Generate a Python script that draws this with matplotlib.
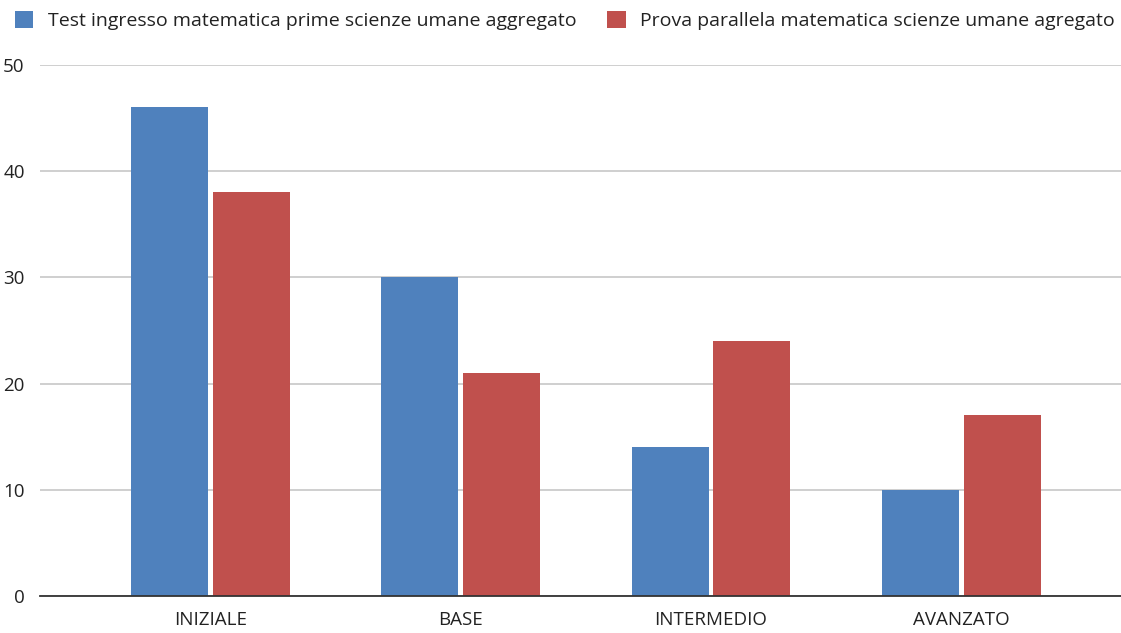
import numpy as np
import matplotlib
matplotlib.use('Agg')
import matplotlib.pyplot as plt

categories = ['INIZIALE', 'BASE', 'INTERMEDIO', 'AVANZATO']
test_ingresso = [46, 30, 14, 10]
prova_parallela = [38, 21, 24, 17]
series_names = ['Test ingresso matematica prime scienze umane aggregato',
                'Prova parallela matematica scienze umane agregato']
yticks = [0, 10, 20, 30, 40, 50]

plt.rcParams['font.family'] = ['Open Sans', 'DejaVu Sans']
txt = '#222222'

fig = plt.figure(figsize=(11.21, 6.33), dpi=100)
ax = fig.add_axes([40/1121, 1-596/633, 1-40/1121, (596-65)/633])

x = np.arange(len(categories))
w = 0.308
off = 0.163
b1 = ax.bar(x-off, test_ingresso, w, color='#4F81BD', zorder=3, label=series_names[0])
b2 = ax.bar(x+off, prova_parallela, w, color='#C0504D', zorder=3, label=series_names[1])

ax.set_xlim(-0.681, 3.638)
ax.set_ylim(0, 50)
ax.set_yticks(yticks)
ax.set_xticks(x)
ax.set_xticklabels(categories)
ax.grid(axis='y', color='#cccccc', linewidth=1.3, zorder=0)
for s in ['top', 'right', 'left']:
    ax.spines[s].set_visible(False)
ax.spines['bottom'].set_color('#333333')
ax.spines['bottom'].set_linewidth(1.3)
ax.spines['bottom'].set_zorder(4)
ax.tick_params(axis='both', length=0, labelsize=13.5, labelcolor=txt)
ax.tick_params(axis='y', pad=11)
ax.tick_params(axis='x', pad=11)

fig.legend(handles=[b1, b2], loc='upper left', bbox_to_anchor=(0.006, 0.995), ncol=2,
           frameon=False, fontsize=14, labelcolor=txt, handlelength=0.95, handleheight=0.95,
           handletextpad=0.75, columnspacing=1.6, borderaxespad=0)

fig.savefig('out.png', dpi=100)
